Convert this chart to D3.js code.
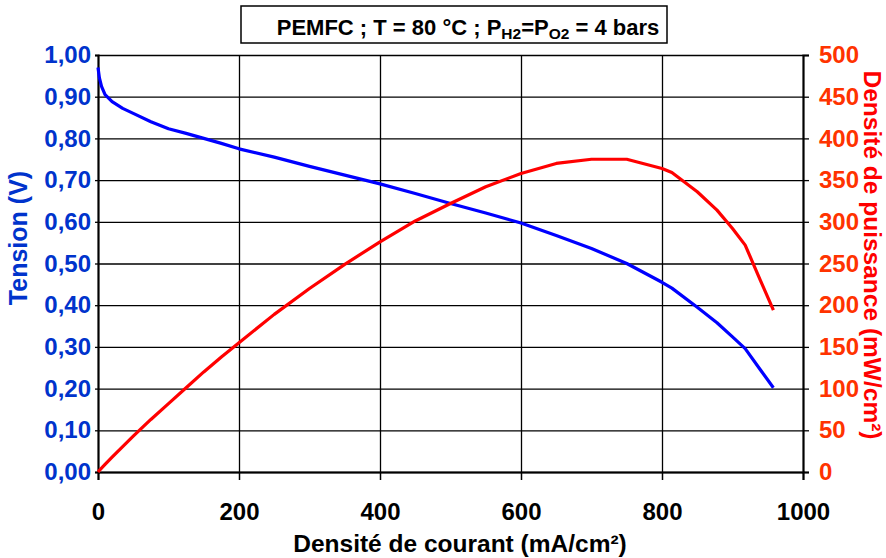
<!DOCTYPE html>
<html>
<head>
<meta charset="utf-8">
<script src="https://cdn.jsdelivr.net/npm/d3@7"></script>
<style>
  html, body { margin: 0; padding: 0; background: #fff; }
  svg text { font-family: "Liberation Sans", Arial, sans-serif; font-weight: bold; }
</style>
</head>
<body>
<svg id="chart" width="886" height="558"></svg>
<script>
// Current density (mA/cm²)
const current = [0, 2, 5, 10, 20, 35, 50, 75, 100, 125, 150, 175, 200, 250, 300, 350, 400, 450, 500, 550, 600, 650, 700, 750, 800, 814, 850, 878, 900, 918, 940, 958];
// Cell voltage (V)
const tension = [0.970, 0.945, 0.925, 0.905, 0.888, 0.872, 0.860, 0.840, 0.823, 0.812, 0.800, 0.788, 0.775, 0.755, 0.733, 0.712, 0.691, 0.668, 0.644, 0.621, 0.597, 0.567, 0.536, 0.500, 0.455, 0.441, 0.395, 0.358, 0.324, 0.296, 0.244, 0.202];
// Power density (mW/cm²)
const power = [0, 1.9, 4.6, 9.1, 17.8, 30.5, 43, 63, 82, 101, 120, 138, 155, 189, 220, 249, 276, 301, 322, 342, 358, 370, 375, 375, 364, 359, 336, 314, 292, 272, 229, 194];

const xTicks = [0, 200, 400, 600, 800, 1000];
const yLeftTicks = [0, 0.1, 0.2, 0.3, 0.4, 0.5, 0.6, 0.7, 0.8, 0.9, 1.0];
const yRightTicks = [0, 50, 100, 150, 200, 250, 300, 350, 400, 450, 500];

const titleParts = [
  {t: "PEMFC ; T = 80 °C ; P", sub: false},
  {t: "H2", sub: true},
  {t: "=P", sub: false},
  {t: "O2", sub: true},
  {t: " = 4 bars", sub: false}
];

const L = 98, R = 803, T = 55, B = 472;
const svg = d3.select("#chart");

const x = d3.scaleLinear().domain([0, 1000]).range([L, R]);
const yL = d3.scaleLinear().domain([0, 1]).range([B, T]);
const yR = d3.scaleLinear().domain([0, 500]).range([B, T]);

// horizontal grid
svg.append("g").attr("transform", `translate(${L},0)`)
  .call(d3.axisLeft(yL).tickValues(yLeftTicks).tickSize(-(R - L)).tickFormat(""))
  .call(g => g.select(".domain").remove())
  .selectAll("line").attr("stroke", "#000").attr("stroke-width", 1.3);

// vertical grid
svg.append("g").attr("transform", `translate(0,${B})`)
  .call(d3.axisBottom(x).tickValues([200, 400, 600, 800]).tickSize(-(B - T)).tickFormat(""))
  .call(g => g.select(".domain").remove())
  .selectAll("line").attr("stroke", "#000").attr("stroke-width", 1.3);

// left axis
const gl = svg.append("g").attr("transform", `translate(${L},0)`)
  .call(d3.axisLeft(yL).tickValues(yLeftTicks).tickSize(3).tickPadding(4)
    .tickFormat(d => d.toFixed(2).replace(".", ",")));
gl.select(".domain").attr("stroke", "#000").attr("stroke-width", 2.2);
gl.selectAll("line").attr("stroke", "#000").attr("stroke-width", 1.3);
gl.selectAll("text").attr("fill", "#0033cc").style("font-size", "24px");

// right axis
const gr = svg.append("g").attr("transform", `translate(${R},0)`)
  .call(d3.axisRight(yR).tickValues(yRightTicks).tickSize(6).tickPadding(10));
gr.select(".domain").attr("stroke", "#000").attr("stroke-width", 2.2);
gr.selectAll("line").attr("stroke", "#000").attr("stroke-width", 1.3);
gr.selectAll("text").attr("fill", "#ff3300").style("font-size", "24px");

// bottom axis
const gb = svg.append("g").attr("transform", `translate(0,${B})`)
  .call(d3.axisBottom(x).tickValues(xTicks).tickSize(8).tickPadding(23).tickFormat(d3.format("d")));
gb.select(".domain").attr("stroke", "#000").attr("stroke-width", 2);
gb.selectAll("line").attr("stroke", "#000").attr("stroke-width", 1.5);
gb.selectAll("text").attr("fill", "#000").style("font-size", "24px");

// curves
const idx = d3.range(current.length);
svg.append("path")
  .attr("d", d3.line().x(i => x(current[i])).y(i => yL(tension[i]))(idx))
  .attr("fill", "none").attr("stroke", "#0000ff").attr("stroke-width", 3.2)
  .attr("stroke-linejoin", "round");
svg.append("path")
  .attr("d", d3.line().x(i => x(current[i])).y(i => yR(power[i]))(idx))
  .attr("fill", "none").attr("stroke", "#ff0000").attr("stroke-width", 3.2)
  .attr("stroke-linejoin", "round");

// axis titles
svg.append("text").attr("transform", "translate(27,238) rotate(-90)")
  .attr("text-anchor", "middle").attr("fill", "#0033cc").style("font-size", "25px")
  .text("Tension (V)");
svg.append("text").attr("transform", "translate(864,255) rotate(90)")
  .attr("text-anchor", "middle").attr("fill", "#ff0000").style("font-size", "24.5px")
  .text("Densité de puissance (mW/cm²)");
svg.append("text").attr("x", 460).attr("y", 552)
  .attr("text-anchor", "middle").attr("fill", "#000").style("font-size", "24.5px")
  .text("Densité de courant (mA/cm²)");

// title box
svg.append("rect").attr("x", 241).attr("y", 6).attr("width", 426).attr("height", 37)
  .attr("fill", "#fff").attr("stroke", "#000").attr("stroke-width", 1.5);
const tt = svg.append("text").attr("x", 468).attr("y", 35).attr("text-anchor", "middle")
  .attr("fill", "#000").style("font-size", "22px");
titleParts.forEach(p => {
  const s = tt.append("tspan").text(p.t);
  if (p.sub) s.attr("baseline-shift", "-28%").style("font-size", "15.5px");
});
</script>
</body>
</html>
